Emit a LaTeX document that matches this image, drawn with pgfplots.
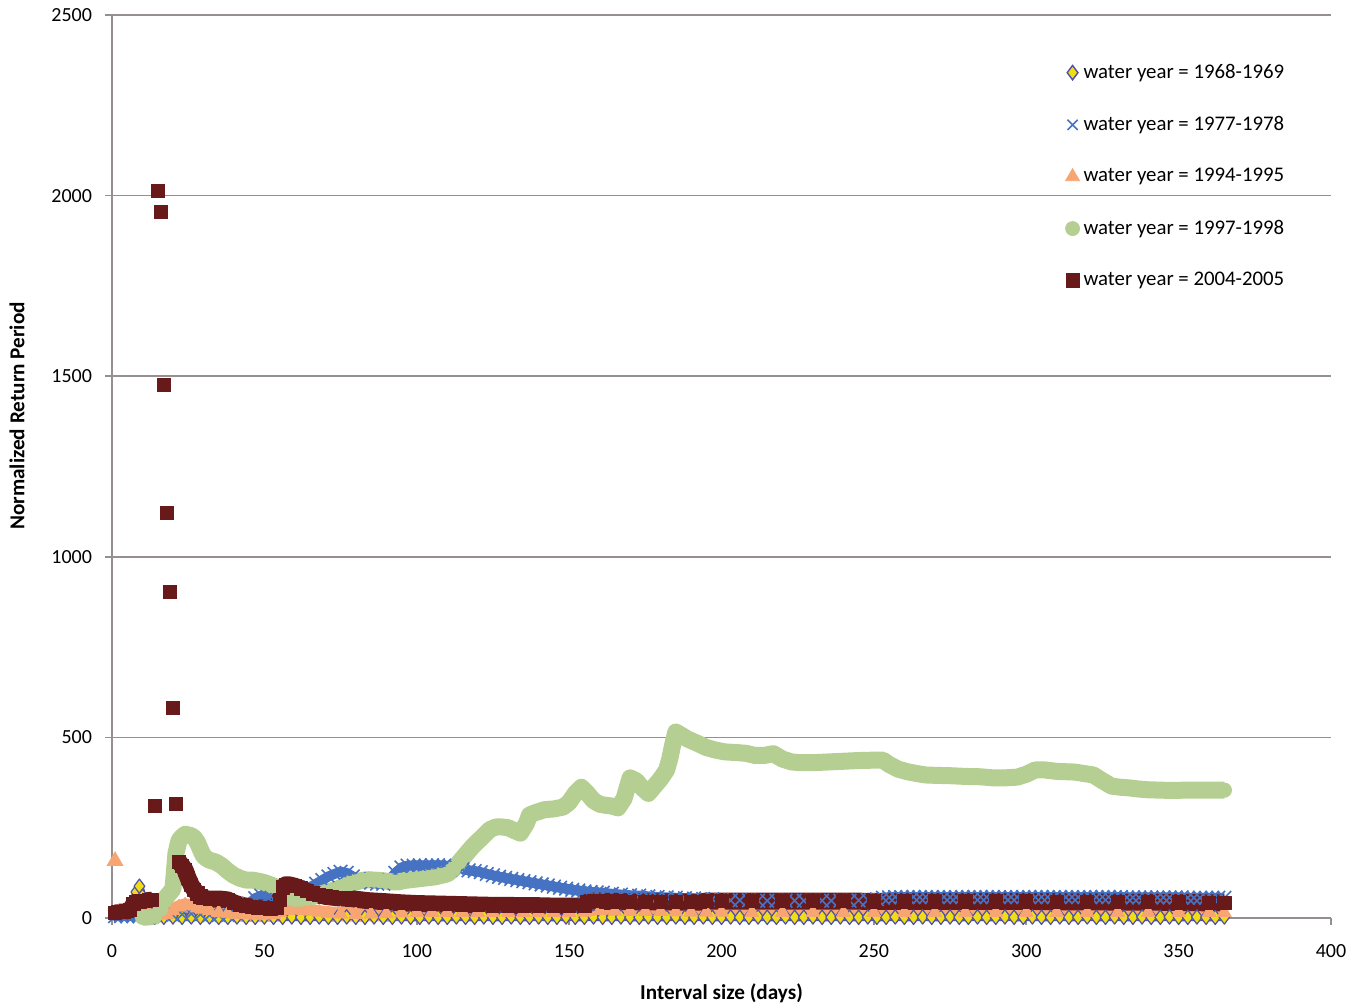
\documentclass[border=0pt]{standalone}
\usepackage{fontspec}
\setmainfont{Carlito}
\usepackage{pgfplots}
\pgfplotsset{compat=1.18}
\definecolor{cA}{RGB}{240,222,20}
\definecolor{cAe}{RGB}{80,80,170}
\definecolor{cB}{RGB}{70,114,196}
\definecolor{cC}{RGB}{246,165,115}
\definecolor{cD}{RGB}{181,206,146}
\definecolor{cE}{RGB}{104,26,26}
\definecolor{gridc}{RGB}{150,143,143}
\begin{document}
\begin{tikzpicture}
\begin{axis}[
  scale only axis, width=609.5pt, height=451.5pt,
  xmin=0, xmax=400, ymin=0, ymax=2500,
  xtick={0,50,...,400}, ytick={0,500,...,2500},
  axis x line*=bottom, axis y line*=left,
  axis line style={-, draw=gridc, line width=0.8pt},
  ymajorgrids, grid style={draw=gridc, line width=0.8pt},
  tick align=outside, major tick length=3.5pt,
  tick style={draw=gridc, line width=0.8pt},
  /pgf/number format/assume math mode=true,
  /pgf/number format/set thousands separator={},
  tick label style={font=\fontsize{10}{12}\selectfont},
  xticklabel style={yshift=-6pt},
  yticklabel style={xshift=-3pt},
  xlabel={\bfseries Interval size (days)},
  ylabel={\bfseries Normalized Return Period},
  label style={font=\fontsize{10.6}{12}\selectfont},
  xlabel style={at={(axis description cs:0.5,-0.083)}, anchor=center},
  ylabel style={at={(axis description cs:-0.078,0.556)}, anchor=center},
  clip=false,
  legend style={at={(axis description cs:0.777,0.955)}, anchor=north west,
    draw=none, fill=none, font=\fontsize{10.4}{12}\selectfont, row sep=13.5pt,
    cells={anchor=west}},
  legend image code/.code={\draw[#1] plot coordinates {(0.14cm,0cm)};},
]
\addlegendimage{only marks, mark=diamond*, mark size=3.6pt, mark options={fill=cA, draw=cAe, line width=0.7pt}}
\addlegendentry{water year = 1968-1969}
\addlegendimage{only marks, mark=x, mark size=3.6pt, mark options={draw=cB, line width=0.8pt}}
\addlegendentry{water year = 1977-1978}
\addlegendimage{only marks, mark=triangle*, mark size=4pt, mark options={fill=cC, draw=cC, line width=0.4pt}}
\addlegendentry{water year = 1994-1995}
\addlegendimage{only marks, mark=*, mark size=3.5pt, mark options={fill=cD, draw=cD, line width=0.4pt}}
\addlegendentry{water year = 1997-1998}
\addlegendimage{only marks, mark=square*, mark size=3.3pt, mark options={fill=cE, draw=cE, line width=0.4pt}}
\addlegendentry{water year = 2004-2005}

% 1968-1969
\addplot[forget plot, draw=cAe, line width=4pt, line join=round,
  mark=diamond*, mark size=3.6pt, mark options={fill=cA, draw=cAe, line width=0.6pt}]
coordinates {(1,10)(3,12)(5,15)(6,25)(7,45)(8,72)(9,88)(10,60)(11,15)(12,5)(14,3)
(17,2)(20,3)(23,2)(26,3)(29,2)(32,3)(35,2)(38,2)(41,3)(44,2)(47,2)(50,3)(53,2)(56,2)(59,3)
(62,2)(65,2)(68,3)(71,2)(74,2)(77,3)(80,2)(83,2)(86,3)(89,2)(92,2)(95,3)(98,2)(101,2)(104,3)
(107,2)(110,2)(113,3)(116,2)(119,2)(122,3)(125,2)(128,2)(131,3)(134,2)(137,2)(140,3)(143,2)
(146,2)(149,3)(152,2)(155,2)(158,3)(161,2)(164,2)(167,3)(170,2)(173,2)(176,3)(179,2)(182,2)
(185,3)(188,2)(191,2)(194,3)(197,2)(200,2)(203,3)(206,2)(209,2)(212,3)(215,2)(218,2)(221,3)
(224,2)(227,2)(230,3)(233,2)(236,2)(239,3)(242,2)(245,2)(248,3)(251,2)(254,2)(257,3)(260,2)
(263,2)(266,3)(269,2)(272,2)(275,3)(278,2)(281,2)(284,3)(287,2)(290,2)(293,3)(296,2)(299,2)
(302,3)(305,2)(308,2)(311,3)(314,2)(317,2)(320,3)(323,2)(326,2)(329,3)(332,2)(335,2)(338,3)
(341,2)(344,2)(347,3)(350,2)(353,2)(356,3)(359,2)(362,2)(365,3)};

% 1977-1978
\addplot[forget plot, draw=cB, line width=5pt, line join=round,
  mark=x, mark size=4.8pt, mark options={draw=cB, line width=0.8pt}]
coordinates {(1,5)(3,5)(5,5)(7,5)(9,5)(11,8)(14,10)(17,10)(20,8)(23,10)(26,12)(29,10)(32,8)
(35,8)(38,8)(41,10)(43,20)(45,40)(47,55)(49,62)(51,58)(53,52)(55,48)(57,50)(59,55)(61,62)
(63,72)(65,85)(67,95)(69,105)(71,115)(73,122)(75,128)(77,125)(79,115)(81,108)(83,102)(85,98)
(87,95)(89,95)(91,105)(93,125)(95,140)(97,145)(99,145)(101,146)(103,145)(105,146)(107,146)
(109,145)(111,144)(113,140)(115,135)(117,132)(119,130)(121,127)(123,122)(125,118)(127,114)
(129,111)(131,108)(133,105)(135,102)(137,99)(139,96)(141,93)(143,90)(145,87)(147,84)(149,81)
(151,78)(153,76)(155,74)(157,72)(159,71)(161,70)(164,67)(167,65)(170,63)(173,62)(176,60)
(179,58)(182,57)(185,56)(188,55)(191,54)(194,53)(197,52)(200,50)(203,49)(206,49)(209,49)
(212,48)(215,48)(218,48)(221,48)(224,48)(227,48)(230,48)(233,48)(236,48)(239,48)(242,48)
(245,49)(248,50)(251,52)(253,56)(255,57)(257,58)(259,58)(261,58)(263,58)(265,58)(267,58)
(269,58)(271,58)(273,58)(275,58)(277,58)(279,58)(281,58)(283,58)(285,58)(287,58)(289,58)
(291,58)(293,58)(295,58)(297,58)(299,58)(301,58)(303,58)(305,58)(307,58)(309,58)(311,58)
(313,58)(315,58)(317,58)(319,58)(321,58)(323,58)(325,58)(327,58)(329,58)(331,58)(333,57)
(335,57)(337,57)(339,57)(341,57)(343,57)(345,57)(347,57)(349,57)(351,57)(353,56)(355,56)
(357,56)(359,56)(361,56)(363,56)(365,56)};

% 1994-1995
\addplot[forget plot, only marks, mark=triangle*, mark size=4.5pt, mark options={fill=cC, draw=cC, line width=0.4pt}]
coordinates {(1,158)};
\addplot[forget plot, draw=cC, line width=7pt, line join=round,
  mark=triangle*, mark size=4pt, mark options={fill=cC, draw=cC, line width=0.4pt}]
coordinates {(2,15)(4,20)(6,25)(8,40)(10,25)(12,15)(14,10)(16,8)(18,10)(20,20)(22,30)(24,35)
(26,33)(28,28)(30,24)(32,20)(35,15)(38,12)(41,10)(44,9)(47,8)(50,8)(53,10)(55,15)(57,20)
(59,22)(61,22)(63,21)(65,19)(68,16)(71,13)(75,11)(80,10)(85,11)(90,12)(95,14)(100,15)
(105,15)(110,15)(115,15)(120,15)(125,15)(130,15)(135,15)(140,15)(145,15)(150,15)(155,16)
(156,18)(160,20)(165,19)(170,18)(175,18)(180,18)(185,17)(190,16)(195,16)(200,16)(210,15)
(220,15)(230,15)(240,15)(250,15)(260,15)(270,15)(280,15)(290,15)(300,15)(310,15)(320,15)
(330,15)(340,15)(350,15)(360,15)(365,15)};

% 1997-1998
\addplot[forget plot, draw=cD, line width=8.5pt, line join=round,
  mark=*, mark size=3.6pt, mark options={fill=cD, draw=cD, line width=0.4pt}]
coordinates {(10,2)(12,3)(14,5)(16,25)(17,45)(18,60)(19,70)(20,80)(21,180)(22,215)(23,225)
(24,232)(25,230)(26,228)(27,222)(28,210)(29,190)(30,172)(31,165)(32,160)(34,155)(36,145)
(38,130)(40,118)(42,110)(44,105)(46,105)(48,102)(50,98)(52,92)(54,85)(56,72)(58,56)(60,52)
(62,52)(64,55)(66,60)(68,65)(70,70)(72,75)(74,80)(76,88)(78,95)(80,100)(82,104)(84,106)
(86,105)(88,104)(90,102)(92,100)(94,100)(96,104)(98,106)(100,108)(102,110)(104,112)(106,114)
(108,118)(110,122)(112,135)(114,155)(116,175)(118,195)(120,212)(122,228)(124,245)(126,252)
(128,252)(130,250)(132,242)(134,235)(136,262)(137,285)(139,292)(142,300)(145,302)(148,307)
(150,320)(152,345)(154,362)(156,345)(158,325)(160,315)(162,312)(164,310)(166,305)(168,330)
(170,388)(172,380)(174,360)(176,345)(178,365)(180,385)(182,410)(183,440)(184,480)(185,515)
(187,505)(189,495)(192,484)(195,472)(198,465)(201,460)(205,458)(208,456)(211,450)(214,450)
(217,455)(220,440)(223,432)(226,430)(230,430)(235,432)(240,434)(245,436)(250,437)(253,437)
(255,425)(258,412)(261,405)(264,400)(267,396)(270,395)(275,394)(280,392)(285,391)(289,388)
(293,388)(297,390)(300,398)(303,410)(306,410)(310,406)(313,405)(316,404)(319,400)(322,396)
(325,380)(328,365)(331,362)(334,360)(337,357)(340,355)(344,354)(348,353)(352,354)(356,354)
(360,354)(365,354)};

% 2004-2005
\addplot[forget plot, draw=cE, line width=8pt, line join=round,
  mark=square*, mark size=3.3pt, mark options={fill=cE, draw=cE, line width=0.4pt}]
coordinates {(1,15)(2,16)(3,18)(4,18)(5,20)(6,22)(7,40)(8,44)(9,46)(10,48)(11,48)(12,50)(13,50)};
\addplot[forget plot, only marks, mark=square*, mark size=3.3pt, mark options={fill=cE, draw=cE, line width=0.4pt}]
coordinates {(14,310)(15,2012)(16,1954)(17,1475)(18,1121)(19,902)(20,581)(21,316)};
\addplot[forget plot, draw=cE, line width=8.5pt, line join=round,
  mark=square*, mark size=3.3pt, mark options={fill=cE, draw=cE, line width=0.4pt}]
coordinates {(22,155)(23,145)(24,133)(25,110)(26,91)(27,78)(28,68)(29,60)(30,55)(32,52)(34,52)
(36,52)(38,50)(40,42)(42,36)(44,33)(46,30)(48,28)(50,27)(52,26)(54,28)(55,50)(56,85)(57,92)
(58,92)(59,90)(60,88)(62,82)(64,74)(66,68)(68,64)(70,60)(72,58)(74,56)(76,55)(78,54)(80,52)
(82,50)(84,48)(86,47)(88,46)(90,45)(95,42)(100,40)(105,39)(110,38)(115,37)(120,36)(125,35)
(130,35)(135,34)(140,34)(145,33)(150,33)(155,33)(156,45)(158,47)(162,46)(166,46)(170,45)
(175,45)(180,45)(185,44)(190,44)(193,44)(195,47)(200,47)(210,47)(220,47)(230,47)(240,47)
(250,46)(260,46)(270,46)(280,46)(290,46)(300,46)(310,45)(320,45)(330,44)(340,44)(350,43)
(360,42)(365,42)};
\end{axis}
\pgfresetboundingbox
\path[use as bounding box] ([xshift=-56pt,yshift=-44.5pt]current axis.south west) rectangle ([xshift=15pt,yshift=7.5pt]current axis.north east);
\end{tikzpicture}
\end{document}
